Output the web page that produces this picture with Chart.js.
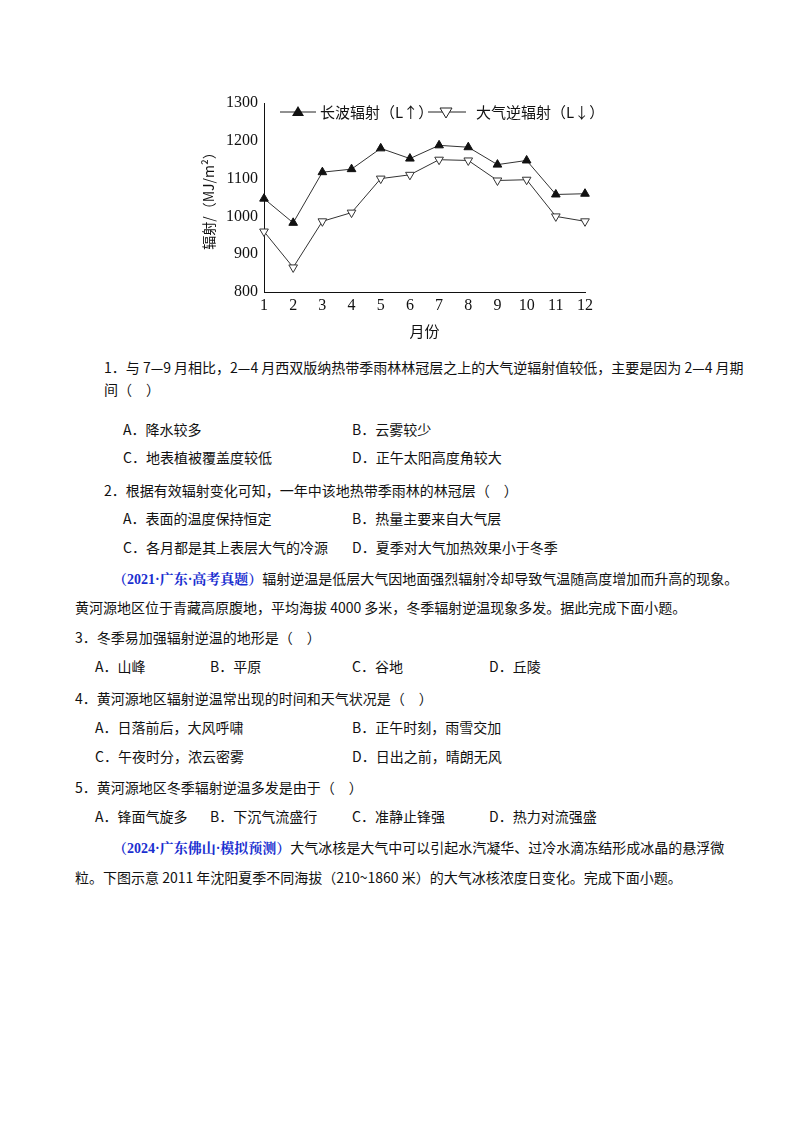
<!DOCTYPE html>
<html><head><meta charset="utf-8">
<script src="https://cdn.jsdelivr.net/npm/chart.js@4/dist/chart.umd.min.js"></script>
<style>
body{margin:0;background:#fff;width:800px;height:1132px;position:relative;font-family:"Noto Sans CJK SC","Noto Sans",sans-serif;color:#111}
.l{position:absolute;font-size:14px;white-space:nowrap;line-height:20px}
.b{color:#1a2fd0;font-weight:bold;font-family:"Liberation Serif","Noto Serif CJK SC",serif}
#wrap{position:absolute;left:200px;top:90px;width:410px;height:250px}
</style></head><body>
<div id="wrap"><canvas id="c" width="410" height="250"></canvas></div>

<div class="l" style="left:104px;top:357px">1．与 7—9 月相比，2—4 月西双版纳热带季雨林林冠层之上的大气逆辐射值较低，主要是因为 2—4 月期</div>
<div class="l" style="left:104px;top:379px">间（　）</div>
<div class="l" style="left:123px;top:419px">A．降水较多</div>
<div class="l" style="left:352px;top:419px">B．云雾较少</div>
<div class="l" style="left:123px;top:447px">C．地表植被覆盖度较低</div>
<div class="l" style="left:352px;top:447px">D．正午太阳高度角较大</div>
<div class="l" style="left:104px;top:480px">2．根据有效辐射变化可知，一年中该地热带季雨林的林冠层（　）</div>
<div class="l" style="left:123px;top:508px">A．表面的温度保持恒定</div>
<div class="l" style="left:352px;top:508px">B．热量主要来自大气层</div>
<div class="l" style="left:123px;top:537px">C．各月都是其上表层大气的冷源</div>
<div class="l" style="left:352px;top:537px">D．夏季对大气加热效果小于冬季</div>
<div class="l" style="left:113px;top:568px"><span class="b">（2021·广东·高考真题）</span>辐射逆温是低层大气因地面强烈辐射冷却导致气温随高度增加而升高的现象。</div>
<div class="l" style="left:75px;top:597px">黄河源地区位于青藏高原腹地，平均海拔 4000 多米，冬季辐射逆温现象多发。据此完成下面小题。</div>
<div class="l" style="left:75px;top:627px">3．冬季易加强辐射逆温的地形是（　）</div>
<div class="l" style="left:95px;top:656px">A．山峰</div>
<div class="l" style="left:210px;top:656px">B．平原</div>
<div class="l" style="left:352px;top:656px">C．谷地</div>
<div class="l" style="left:489px;top:656px">D．丘陵</div>
<div class="l" style="left:75px;top:688px">4．黄河源地区辐射逆温常出现的时间和天气状况是（　）</div>
<div class="l" style="left:95px;top:717px">A．日落前后，大风呼啸</div>
<div class="l" style="left:352px;top:717px">B．正午时刻，雨雪交加</div>
<div class="l" style="left:95px;top:746px">C．午夜时分，浓云密雾</div>
<div class="l" style="left:352px;top:746px">D．日出之前，晴朗无风</div>
<div class="l" style="left:75px;top:777px">5．黄河源地区冬季辐射逆温多发是由于（　）</div>
<div class="l" style="left:95px;top:806px">A．锋面气旋多</div>
<div class="l" style="left:210px;top:806px">B．下沉气流盛行</div>
<div class="l" style="left:352px;top:806px">C．准静止锋强</div>
<div class="l" style="left:489px;top:806px">D．热力对流强盛</div>
<div class="l" style="left:113px;top:837px"><span class="b">（2024·广东佛山·模拟预测）</span>大气冰核是大气中可以引起水汽凝华、过冷水滴冻结形成冰晶的悬浮微</div>
<div class="l" style="left:75px;top:867px">粒。下图示意 2011 年沈阳夏季不同海拔（210~1860 米）的大气冰核浓度日变化。完成下面小题。</div>

<script>
var months = ["1","2","3","4","5","6","7","8","9","10","11","12"];
var longwave = [1047, 983, 1117, 1125, 1180, 1153, 1188, 1183, 1137, 1148, 1058, 1060];
var counter = [960, 865, 987, 1010, 1100, 1110, 1150, 1148, 1095, 1097, 1000, 987];
var yTicks = [800, 900, 1000, 1100, 1200, 1300];

var legendPlugin = {
  id: 'lg',
  afterDraw: function (ch) {
    var c = ch.ctx;
    c.save();
    c.strokeStyle = '#222'; c.lineWidth = 1;
    c.font = '15px "Noto Sans CJK SC"'; c.fillStyle = '#111'; c.textBaseline = 'middle';
    var y = 22;
    c.beginPath(); c.moveTo(80, y); c.lineTo(116, y); c.stroke();
    c.beginPath(); c.moveTo(98, y - 6); c.lineTo(104, y + 4); c.lineTo(92, y + 4); c.closePath(); c.fill();
    c.fillText('长波辐射（L↑）', 120, y);
    c.beginPath(); c.moveTo(228, y); c.lineTo(266, y); c.stroke();
    c.beginPath(); c.moveTo(240, y - 4); c.lineTo(252, y - 4); c.lineTo(246, y + 6); c.closePath(); c.fillStyle = '#fff'; c.fill(); c.stroke();
    c.fillStyle = '#111';
    c.fillText('大气逆辐射（L↓）', 276, y);
    c.restore();
  }
};

new Chart(document.getElementById('c'), {
  type: 'line',
  data: {
    labels: months,
    datasets: [{
      data: longwave, borderColor: '#333', borderWidth: 1,
      pointStyle: 'triangle', pointRadius: 5, pointBackgroundColor: '#111', pointBorderColor: '#111'
    }, {
      data: counter, borderColor: '#333', borderWidth: 1,
      pointStyle: 'triangle', pointRotation: 180, pointRadius: 5, pointBackgroundColor: '#fff', pointBorderColor: '#333'
    }]
  },
  options: {
    responsive: false, animation: false,
    layout: { padding: { top: 13, right: 25, left: 0, bottom: 0 } },
    plugins: { legend: { display: false }, tooltip: { enabled: false } },
    scales: {
      x: {
        offset: false,
        grid: { display: false, drawTicks: true, tickLength: 4, color: '#111' },
        border: { color: '#111' },
        ticks: { color: '#111', font: { family: 'Liberation Serif', size: 16 }, padding: 0 },
        title: { display: true, text: '月份', color: '#111', font: { family: 'Noto Sans CJK SC', size: 15 }, padding: { top: -4, bottom: 0 } },
        afterFit: function (s) { s.height = 48; }
      },
      y: {
        min: 800, max: 1300,
        afterBuildTicks: function (s) { s.ticks = yTicks.map(function (v) { return { value: v }; }); },
        grid: { display: false, drawTicks: true, tickLength: 4, color: '#111' },
        border: { color: '#111' },
        ticks: { color: '#111', font: { family: 'Liberation Serif', size: 16 }, padding: 2, callback: function (v) { return String(v); } },
        title: { display: true, text: '辐射/（MJ/m²）', color: '#111', font: { family: 'Noto Sans CJK SC', size: 14 }, padding: 0 },
        afterFit: function (s) { s.width = 64; }
      }
    }
  },
  plugins: [legendPlugin]
});
</script>
</body></html>
